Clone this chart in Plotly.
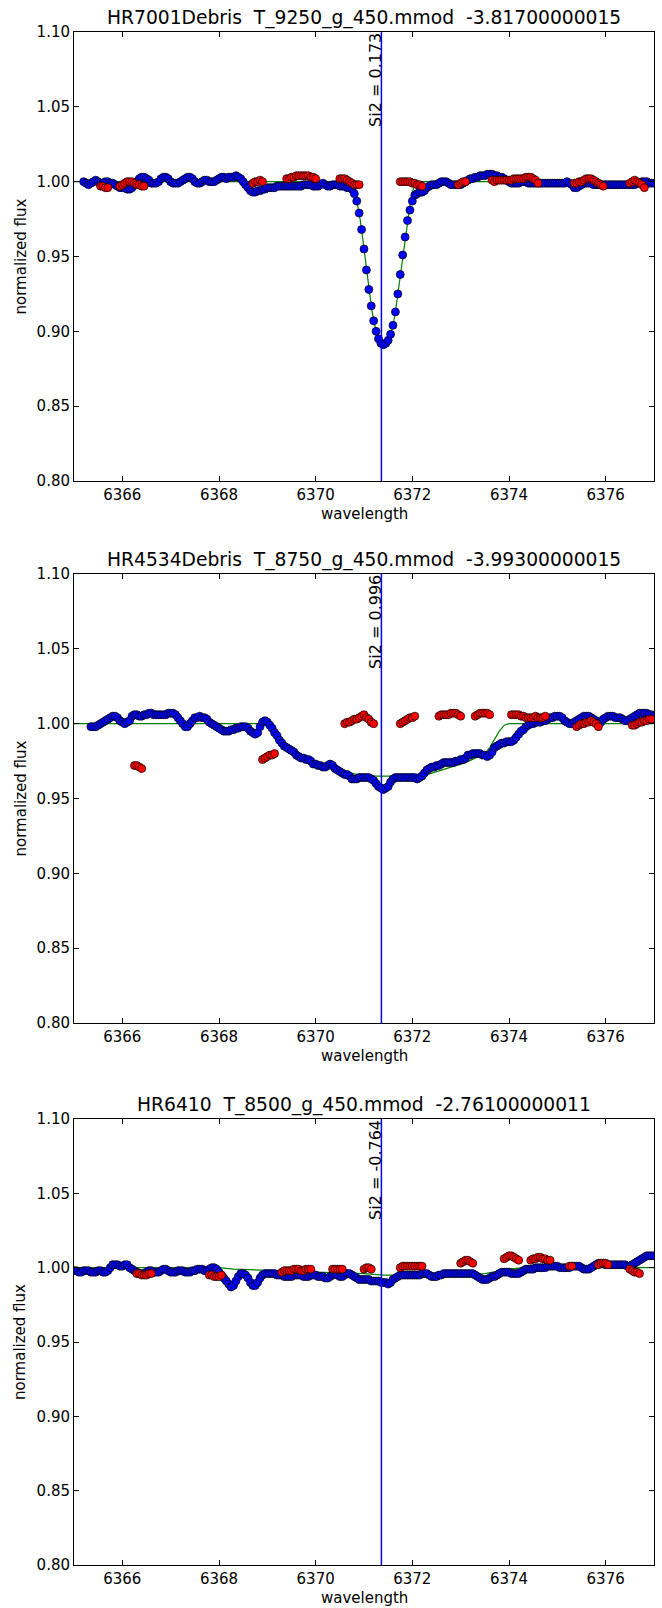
import plotly.graph_objects as go

# ---------------- data ----------------
titles = ["HR7001Debris  T_9250_g_450.mmod  -3.81700000015",
          "HR4534Debris  T_8750_g_450.mmod  -3.99300000015",
          "HR6410  T_8500_g_450.mmod  -2.76100000011"]
si2_values = ["0.173", "0.996", "-0.764"]
si2_wave = 6371.36

wave = [
 6365.00, 6365.05, 6365.10, 6365.15, 6365.20, 6365.25, 6365.30, 6365.35, 6365.40, 6365.45, 6365.50, 6365.55, 6365.60, 6365.65, 6365.70, 6365.75, 6365.80, 6365.85, 6365.90, 6365.95,
 6366.00, 6366.05, 6366.10, 6366.15, 6366.20, 6366.25, 6366.30, 6366.35, 6366.40, 6366.45, 6366.50, 6366.55, 6366.60, 6366.65, 6366.70, 6366.75, 6366.80, 6366.85, 6366.90, 6366.95,
 6367.00, 6367.05, 6367.10, 6367.15, 6367.20, 6367.25, 6367.30, 6367.35, 6367.40, 6367.45, 6367.50, 6367.55, 6367.60, 6367.65, 6367.70, 6367.75, 6367.80, 6367.85, 6367.90, 6367.95,
 6368.00, 6368.05, 6368.10, 6368.15, 6368.20, 6368.25, 6368.30, 6368.35, 6368.40, 6368.45, 6368.50, 6368.55, 6368.60, 6368.65, 6368.70, 6368.75, 6368.80, 6368.85, 6368.90, 6368.95,
 6369.00, 6369.05, 6369.10, 6369.15, 6369.20, 6369.25, 6369.30, 6369.35, 6369.40, 6369.45, 6369.50, 6369.55, 6369.60, 6369.65, 6369.70, 6369.75, 6369.80, 6369.85, 6369.90, 6369.95,
 6370.00, 6370.05, 6370.10, 6370.15, 6370.20, 6370.25, 6370.30, 6370.35, 6370.40, 6370.45, 6370.50, 6370.55, 6370.60, 6370.65, 6370.70, 6370.75, 6370.80, 6370.85, 6370.90, 6370.95,
 6371.00, 6371.05, 6371.10, 6371.15, 6371.20, 6371.25, 6371.30, 6371.35, 6371.40, 6371.45, 6371.50, 6371.55, 6371.60, 6371.65, 6371.70, 6371.75, 6371.80, 6371.85, 6371.90, 6371.95,
 6372.00, 6372.05, 6372.10, 6372.15, 6372.20, 6372.25, 6372.30, 6372.35, 6372.40, 6372.45, 6372.50, 6372.55, 6372.60, 6372.65, 6372.70, 6372.75, 6372.80, 6372.85, 6372.90, 6372.95,
 6373.00, 6373.05, 6373.10, 6373.15, 6373.20, 6373.25, 6373.30, 6373.35, 6373.40, 6373.45, 6373.50, 6373.55, 6373.60, 6373.65, 6373.70, 6373.75, 6373.80, 6373.85, 6373.90, 6373.95,
 6374.00, 6374.05, 6374.10, 6374.15, 6374.20, 6374.25, 6374.30, 6374.35, 6374.40, 6374.45, 6374.50, 6374.55, 6374.60, 6374.65, 6374.70, 6374.75, 6374.80, 6374.85, 6374.90, 6374.95,
 6375.00, 6375.05, 6375.10, 6375.15, 6375.20, 6375.25, 6375.30, 6375.35, 6375.40, 6375.45, 6375.50, 6375.55, 6375.60, 6375.65, 6375.70, 6375.75, 6375.80, 6375.85, 6375.90, 6375.95,
 6376.00, 6376.05, 6376.10, 6376.15, 6376.20, 6376.25, 6376.30, 6376.35, 6376.40, 6376.45, 6376.50, 6376.55, 6376.60, 6376.65, 6376.70, 6376.75, 6376.80, 6376.85, 6376.90, 6376.95,
 6377.00]

# panel 1 : HR7001
flux1 = [
 None, None, None, None, 1.000, 0.999, 0.998, 0.999, 1.000, 1.001, 1.000, 0.999, 0.999, 1.000, 1.000, 0.999, 0.999, 0.998, 0.997, 0.996,
 0.996, 0.996, 0.995, 0.995, 0.996, 0.998, 1.000, 1.002, 1.003, 1.003, 1.002, 1.001, 0.999, 0.999, 0.999, 1.000, 1.002, 1.003, 1.003, 1.002,
 1.000, 0.999, 0.999, 0.999, 1.000, 1.001, 1.002, 1.003, 1.003, 1.002, 1.000, 0.999, 0.999, 1.000, 1.001, 1.001, 1.000, 1.000, 1.000, 1.001,
 1.002, 1.003, 1.003, 1.002, 1.003, 1.003, 1.003, 1.004, 1.003, 1.002, 1.000, 0.998, 0.996, 0.994, 0.993, 0.993, 0.994, 0.994, 0.995, 0.995,
 0.996, 0.996, 0.996, 0.996, 0.997, 0.997, 0.997, 0.997, 0.997, 0.997, 0.997, 0.997, 0.997, 0.997, 0.997, 0.998, 0.998, 0.998, 0.998, 0.997,
 0.997, 0.997, 0.998, 0.999, 0.998, 0.997, 0.997, 0.998, 0.998, 0.998, 0.997, 0.997, 0.997, 0.996, 0.996, 0.995, 0.992, 0.987, 0.979, 0.968,
 0.955, 0.941, 0.928, 0.917, 0.907, 0.900, 0.895, 0.892, 0.891, 0.892, 0.894, 0.898, 0.904, 0.913, 0.925, 0.938, 0.951, 0.963, 0.974, 0.981,
 0.987, 0.991, 0.992, 0.993, 0.993, 0.994, 0.996, 0.997, 0.998, 0.998, 0.998, 0.999, 1.000, 1.000, 1.000, 0.999, 0.998, 0.998, 0.998, 0.998,
 0.998, 0.999, 1.000, 1.001, 1.002, 1.002, 1.003, 1.003, 1.004, 1.004, 1.004, 1.005, 1.005, 1.005, 1.004, 1.004, 1.003, 1.003, 1.002, 1.001,
 1.000, 0.999, 0.999, 0.999, 0.999, 1.000, 1.000, 1.000, 0.999, 0.999, 0.999, 0.999, 0.999, 0.999, 0.999, 0.999, 0.999, 0.999, 0.999, 0.999,
 0.999, 0.999, 0.999, 0.999, 1.000, 0.999, 0.998, 0.996, 0.996, 0.997, 0.998, 0.999, 0.999, 0.999, 0.999, 0.998, 0.998, 0.998, 0.998, 0.998,
 0.998, 0.998, 0.998, 0.998, 0.998, 0.998, 0.998, 0.998, 0.998, 0.998, 0.998, 0.998, 0.998, 0.999, 0.999, 1.000, 1.000, 1.000, 0.999, 0.999,
 0.999]
red_wave1 = [6365.55, 6365.60, 6365.65, 6365.70,
             6365.95, 6366.00, 6366.05, 6366.10, 6366.15, 6366.20, 6366.25, 6366.30, 6366.35, 6366.40, 6366.45,
             6368.70, 6368.75, 6368.80, 6368.85, 6368.90,
             6369.40, 6369.45, 6369.50, 6369.55, 6369.60, 6369.65, 6369.70, 6369.75, 6369.80, 6369.85, 6369.90, 6369.95, 6370.00,
             6370.50, 6370.55, 6370.60, 6370.65, 6370.70, 6370.75, 6370.80, 6370.85, 6370.90,
             6371.75, 6371.80, 6371.85, 6371.90, 6371.95, 6372.00, 6372.05, 6372.10, 6372.15, 6372.20,
             6372.95, 6373.00, 6373.05, 6373.10,
             6373.65, 6373.70, 6373.75, 6373.80, 6373.85, 6373.90, 6373.95, 6374.00, 6374.05, 6374.10,
             6374.15, 6374.20, 6374.25, 6374.30, 6374.35, 6374.40, 6374.45, 6374.50, 6374.55, 6374.60,
             6375.35, 6375.40, 6375.45, 6375.50, 6375.55, 6375.60, 6375.65, 6375.70, 6375.75, 6375.80, 6375.85, 6375.90, 6375.95,
             6376.50, 6376.55, 6376.60, 6376.65, 6376.70, 6376.75, 6376.80]
red_flux1 = [0.997, 0.997, 0.996, 0.996,
             0.997, 0.998, 0.999, 1.000, 1.000, 1.000, 0.999, 0.998, 0.998, 0.997, 0.997,
             0.999, 1.000, 1.000, 1.001, 1.000,
             1.002, 1.002, 1.003, 1.003, 1.004, 1.004, 1.004, 1.004, 1.004, 1.004, 1.003, 1.003, 1.002,
             1.002, 1.002, 1.002, 1.001, 1.000, 0.999, 0.998, 0.998, 0.998,
             1.000, 1.000, 1.000, 1.000, 1.000, 0.999, 0.999, 0.998, 0.998, 0.997,
             0.998, 0.999, 1.000, 1.000,
             1.001, 1.000, 1.001, 1.001, 1.001, 1.001, 1.001, 1.001, 1.001, 1.002,
             1.002, 1.002, 1.002, 1.002, 1.003, 1.003, 1.003, 1.002, 1.001, 0.999,
             0.999, 0.999, 1.000, 1.000, 1.001, 1.002, 1.002, 1.002, 1.001, 1.000, 0.999, 0.998, 0.997,
             0.999, 1.000, 1.001, 1.000, 0.999, 0.998, 0.996]
model_wave1 = [6365.00, 6370.60, 6370.70, 6370.80, 6370.85, 6370.90, 6370.95, 6371.00, 6371.05, 6371.10,
               6371.15, 6371.20, 6371.25, 6371.30, 6371.35, 6371.40, 6371.45, 6371.50, 6371.55, 6371.60,
               6371.65, 6371.70, 6371.75, 6371.80, 6371.85, 6371.90, 6371.95, 6372.00, 6372.05, 6372.10, 6377.00]
model_flux1 = [1.000, 1.000, 0.998, 0.993, 0.987, 0.979, 0.968, 0.955, 0.941, 0.928,
               0.917, 0.907, 0.900, 0.895, 0.892, 0.891, 0.892, 0.894, 0.898, 0.904,
               0.913, 0.925, 0.938, 0.951, 0.963, 0.974, 0.984, 0.993, 0.998, 1.000, 1.000]

# panel 2 : HR4534
flux2 = [
 None, None, None, None, None, None, None, 0.998, 0.998, 0.998, 0.999, 1.000, 1.001, 1.002, 1.003, 1.004, 1.005, 1.005, 1.004, 1.002,
 1.001, 1.000, 1.001, 1.002, 1.005, 1.006, 1.006, 1.005, 1.005, 1.006, 1.006, 1.007, 1.007, 1.006, 1.006, 1.006, 1.006, 1.006, 1.006, 1.007,
 1.007, 1.007, 1.006, 1.004, 1.002, 1.000, 0.998, 0.998, 1.000, 1.002, 1.004, 1.004, 1.005, 1.004, 1.004, 1.003, 1.001, 1.000, 0.999, 0.998,
 0.997, 0.996, 0.995, 0.995, 0.995, 0.996, 0.996, 0.997, 0.997, 0.998, 0.998, 0.998, 0.997, 0.995, 0.994, 0.993, 0.994, 0.998, 1.001, 1.002,
 1.001, 0.999, 0.997, 0.994, 0.992, 0.989, 0.987, 0.985, 0.984, 0.983, 0.982, 0.981, 0.979, 0.978, 0.977, 0.977, 0.976, 0.976, 0.975, 0.973,
 0.973, 0.972, 0.972, 0.971, 0.971, 0.972, 0.973, 0.972, 0.970, 0.969, 0.968, 0.967, 0.966, 0.966, 0.965, 0.963, 0.963, 0.963, 0.964, 0.964,
 0.964, 0.964, 0.964, 0.963, 0.962, 0.960, 0.958, 0.957, 0.956, 0.957, 0.958, 0.961, 0.963, 0.964, 0.964, 0.964, 0.964, 0.964, 0.964, 0.964,
 0.964, 0.964, 0.963, 0.964, 0.965, 0.967, 0.969, 0.970, 0.971, 0.971, 0.972, 0.972, 0.973, 0.974, 0.974, 0.974, 0.974, 0.974, 0.975, 0.975,
 0.976, 0.976, 0.977, 0.979, 0.979, 0.980, 0.980, 0.980, 0.980, 0.979, 0.979, 0.978, 0.979, 0.981, 0.984, 0.985, 0.986, 0.987, 0.987, 0.988,
 0.988, 0.988, 0.989, 0.991, 0.993, 0.995, 0.996, 0.998, 0.999, 1.000, 1.000, 1.001, 1.001, 1.001, 1.002, 1.002, 1.003, 1.004, 1.004, 1.005,
 1.005, 1.005, 1.004, 1.002, 1.001, 1.000, 1.000, 1.001, 1.002, 1.003, 1.004, 1.005, 1.005, 1.005, 1.004, 1.003, 1.002, 1.000, 1.001, 1.003,
 1.004, 1.005, 1.005, 1.005, 1.004, 1.004, 1.004, 1.003, 1.002, 1.002, 1.003, 1.004, 1.005, 1.006, 1.007, 1.007, 1.007, 1.007, 1.006, 1.006,
 1.005]
red_wave2 = [6366.25, 6366.30, 6366.35, 6366.40,
             6368.90, 6368.95, 6369.00, 6369.05, 6369.10, 6369.15,
             6370.60, 6370.65, 6370.70, 6370.75, 6370.80, 6370.85, 6370.90, 6370.95, 6371.00, 6371.05, 6371.10, 6371.15, 6371.20,
             6371.75, 6371.80, 6371.85, 6371.90, 6371.95, 6372.00, 6372.05,
             6372.55, 6372.60, 6372.65, 6372.70, 6372.75, 6372.80, 6372.85, 6372.90, 6372.95, 6373.00,
             6373.30, 6373.35, 6373.40, 6373.45, 6373.50, 6373.55, 6373.60,
             6374.05, 6374.10, 6374.15, 6374.20, 6374.25, 6374.30, 6374.35, 6374.40, 6374.45, 6374.50,
             6374.55, 6374.60, 6374.65, 6374.70, 6374.75,
             6375.40, 6375.45, 6375.50, 6375.55, 6375.60, 6375.65, 6375.70, 6375.75, 6375.80, 6375.85,
             6376.55, 6376.60, 6376.65, 6376.70, 6376.75, 6376.80, 6376.85, 6376.90, 6376.95]
red_flux2 = [0.972, 0.972, 0.971, 0.970,
             0.976, 0.977, 0.978, 0.979, 0.979, 0.980,
             1.000, 1.001, 1.001, 1.002, 1.003, 1.003, 1.004, 1.005, 1.006, 1.004, 1.003, 1.001, 1.000,
             1.000, 1.001, 1.002, 1.003, 1.004, 1.004, 1.005,
             1.005, 1.006, 1.006, 1.006, 1.006, 1.007, 1.007, 1.007, 1.006, 1.005,
             1.005, 1.006, 1.007, 1.007, 1.007, 1.007, 1.006,
             1.006, 1.006, 1.006, 1.006, 1.005, 1.005, 1.004, 1.004, 1.004, 1.004,
             1.005, 1.004, 1.004, 1.004, 1.005,
             0.998, 0.999, 1.000, 1.000, 1.001, 1.001, 1.002, 1.001, 1.000, 0.998,
             0.999, 0.999, 1.000, 1.001, 1.001, 1.002, 1.002, 1.003, 1.003]
model_wave2 = [6365.00, 6368.95, 6369.05, 6369.15, 6369.30, 6369.50, 6369.70, 6369.90, 6370.10, 6370.30,
               6370.50, 6370.70, 6370.90, 6371.25, 6372.10, 6372.30, 6372.50, 6372.70, 6372.90, 6373.10,
               6373.30, 6373.50, 6373.60, 6373.70, 6373.80, 6373.90, 6374.00, 6377.00]
model_flux2 = [1.000, 1.000, 0.996, 0.991, 0.985, 0.981, 0.978, 0.975, 0.973, 0.970,
               0.968, 0.967, 0.966, 0.965, 0.965, 0.966, 0.968, 0.970, 0.972, 0.974,
               0.977, 0.980, 0.984, 0.990, 0.995, 0.999, 1.000, 1.000]

# panel 3 : HR6410
flux3 = [
 0.998, 0.998, 0.997, 0.997, 0.998, 0.998, 0.998, 0.997, 0.997, 0.997, 0.998, 0.998, 0.997, 0.997, 0.998, 1.000, 1.002, 1.002, 1.002, 1.001,
 1.001, 1.002, 1.002, 1.000, 0.999, 0.998, 0.997, 0.996, 0.996, 0.996, 0.997, 0.998, 0.998, 0.997, 0.997, 0.997, 0.998, 0.999, 0.999, 0.998,
 0.997, 0.997, 0.997, 0.998, 0.998, 0.998, 0.997, 0.997, 0.997, 0.998, 0.998, 0.999, 0.999, 0.999, 0.998, 0.998, 0.999, 1.000, 1.000, 0.999,
 0.997, 0.995, 0.993, 0.991, 0.989, 0.987, 0.988, 0.991, 0.994, 0.996, 0.996, 0.995, 0.993, 0.990, 0.988, 0.988, 0.990, 0.993, 0.995, 0.996,
 0.996, 0.996, 0.996, 0.996, 0.995, 0.995, 0.995, 0.994, 0.994, 0.994, 0.994, 0.995, 0.995, 0.995, 0.995, 0.994, 0.994, 0.994, 0.995, 0.995,
 0.995, 0.994, 0.994, 0.994, 0.993, 0.993, 0.994, 0.995, 0.996, 0.995, 0.994, 0.994, 0.995, 0.996, 0.996, 0.995, 0.994, 0.993, 0.992, 0.992,
 0.992, 0.992, 0.992, 0.991, 0.991, 0.991, 0.991, 0.990, 0.990, 0.990, 0.989, 0.990, 0.992, 0.993, 0.994, 0.995, 0.995, 0.995, 0.995, 0.995,
 0.995, 0.995, 0.995, 0.995, 0.996, 0.996, 0.996, 0.995, 0.994, 0.994, 0.994, 0.995, 0.995, 0.996, 0.996, 0.996, 0.996, 0.996, 0.996, 0.996,
 0.996, 0.996, 0.996, 0.996, 0.996, 0.996, 0.995, 0.994, 0.993, 0.992, 0.992, 0.992, 0.993, 0.994, 0.994, 0.995, 0.996, 0.997, 0.997, 0.997,
 0.997, 0.996, 0.996, 0.996, 0.996, 0.997, 0.998, 0.999, 0.999, 0.999, 0.999, 1.000, 1.000, 1.000, 1.000, 1.000, 1.001, 1.001, 1.001, 1.001,
 1.001, 1.000, 1.000, 1.000, 1.000, 1.000, 1.001, 1.001, 1.001, 1.001, 1.000, 0.999, 0.999, 0.999, 1.000, 1.001, 1.002, 1.003, 1.003, 1.003,
 1.002, 1.002, 1.002, 1.002, 1.002, 1.002, 1.002, 1.002, 1.002, 1.001, 1.001, 1.002, 1.003, 1.004, 1.005, 1.006, 1.007, 1.008, 1.008, 1.008,
 1.008]
red_wave3 = [6366.30, 6366.35, 6366.40, 6366.45, 6366.50, 6366.55, 6366.60,
             6367.80, 6367.85, 6367.90, 6367.95, 6368.00, 6368.05,
             6369.30, 6369.35, 6369.40, 6369.45, 6369.50, 6369.55, 6369.60, 6369.65, 6369.70, 6369.75, 6369.80, 6369.85, 6369.90,
             6370.35, 6370.40, 6370.45, 6370.50, 6370.55,
             6371.00, 6371.05, 6371.10, 6371.15,
             6371.75, 6371.80, 6371.85, 6371.90, 6371.95, 6372.00, 6372.05, 6372.10, 6372.15, 6372.20,
             6373.00, 6373.05, 6373.10, 6373.15, 6373.20, 6373.25,
             6373.90, 6373.95, 6374.00, 6374.05, 6374.10, 6374.15, 6374.20,
             6374.45, 6374.50, 6374.55, 6374.60, 6374.65, 6374.70, 6374.75, 6374.80, 6374.85,
             6375.25, 6375.30,
             6375.85, 6375.90, 6375.95, 6376.00, 6376.05,
             6376.50, 6376.55, 6376.60, 6376.65, 6376.70]
red_flux3 = [0.996, 0.996, 0.995, 0.995, 0.995, 0.996, 0.996,
             0.995, 0.995, 0.994, 0.994, 0.994, 0.995,
             0.997, 0.998, 0.998, 0.998, 0.998, 0.999, 0.999, 0.999, 0.998, 0.998, 0.999, 0.999, 0.999,
             0.999, 0.999, 0.999, 0.999, 0.999,
             0.999, 1.000, 1.000, 0.999,
             1.000, 1.001, 1.001, 1.001, 1.001, 1.001, 1.001, 1.001, 1.001, 1.001,
             1.003, 1.004, 1.005, 1.005, 1.004, 1.003,
             1.006, 1.007, 1.008, 1.008, 1.007, 1.006, 1.005,
             1.005, 1.006, 1.006, 1.007, 1.007, 1.006, 1.006, 1.005, 1.005,
             1.001, 1.001,
             1.002, 1.003, 1.003, 1.003, 1.002,
             0.999, 0.998, 0.997, 0.997, 0.996]
model_wave3 = [6365.00, 6368.00, 6368.30, 6369.00, 6370.00, 6371.00, 6371.40, 6372.00, 6373.00, 6373.50, 6374.00, 6374.30, 6377.00]
model_flux3 = [1.000, 1.000, 0.999, 0.998, 0.997, 0.996, 0.995, 0.995, 0.995, 0.996, 0.999, 1.000, 1.000]

panels = [
    (flux1, red_wave1, red_flux1, model_wave1, model_flux1),
    (flux2, red_wave2, red_flux2, model_wave2, model_flux2),
    (flux3, red_wave3, red_flux3, model_wave3, model_flux3),
]
for p in panels:
    assert len(p[0]) == len(wave), len(p[0])
    assert len(p[1]) == len(p[2]), (len(p[1]), len(p[2]))
    assert len(p[3]) == len(p[4]), (len(p[3]), len(p[4]))

# ---------------- layout geometry (pixels) ----------------
W, H = 662, 1608
L, R, T, B = 74, 8, 32, 43
PW, PH = W - L - R, H - T - B
tops = [32, 574, 1119]
bottoms = [481, 1023, 1565]


def py(p):
    return (H - B - p) / PH


def px(p):
    return (p - L) / PW


FONT = "DejaVu Sans"
fig = go.Figure()
annotations = []
shapes = []

for k, (flux, rw, rf, mw, mf) in enumerate(panels):
    n = "" if k == 0 else str(k + 1)
    xa, ya = "x" + n, "y" + n
    fig.add_trace(go.Scatter(x=mw, y=mf, mode="lines", line=dict(color="#008000", width=1.2),
                             xaxis=xa, yaxis=ya, showlegend=False, hoverinfo="skip"))
    fig.add_trace(go.Scatter(x=wave, y=flux, mode="markers",
                             marker=dict(color="#0000ff", size=8, line=dict(color="black", width=0.7)),
                             xaxis=xa, yaxis=ya, showlegend=False))
    fig.add_trace(go.Scatter(x=rw, y=rf, mode="markers",
                             marker=dict(color="#ff0000", size=8, line=dict(color="black", width=0.7)),
                             xaxis=xa, yaxis=ya, showlegend=False))
    axstyle = dict(showline=True, linecolor="black", linewidth=1, mirror="ticks", ticks="inside",
                   ticklen=5, tickcolor="black", tickwidth=1, showgrid=False, zeroline=False,
                   tickfont=dict(family=FONT, size=15, color="black"))
    fig.layout["xaxis" + n] = dict(domain=[0, 1], range=[6365, 6377], tick0=6366, dtick=2,
                                   anchor=ya, **axstyle)
    fig.layout["yaxis" + n] = dict(domain=[py(bottoms[k]), py(tops[k])], range=[0.8, 1.1],
                                   tick0=0.8, dtick=0.05, tickformat=".2f", anchor=xa, **axstyle)
    shapes.append(dict(type="line", xref=xa, yref=ya + " domain", x0=si2_wave, x1=si2_wave,
                       y0=0, y1=1, line=dict(color="#0000ff", width=1.5)))
    annotations.append(dict(x=si2_wave, y=1.10, xref=xa, yref=ya, text="Si2 = " + si2_values[k],
                            textangle=-90, xanchor="right", yanchor="top", showarrow=False,
                            font=dict(family=FONT, size=16, color="black"), xshift=5, yshift=1))
    annotations.append(dict(x=px(364), y=py(tops[k] - 14), xref="paper", yref="paper", text=titles[k],
                            xanchor="center", yanchor="middle", showarrow=False,
                            font=dict(family=FONT, size=18.7, color="black")))
    annotations.append(dict(x=px(364), y=py(bottoms[k] + 33), xref="paper", yref="paper", text="wavelength",
                            xanchor="center", yanchor="middle", showarrow=False,
                            font=dict(family=FONT, size=15, color="black")))
    annotations.append(dict(x=px(20), y=py((tops[k] + bottoms[k]) / 2), xref="paper", yref="paper",
                            text="normalized flux", textangle=-90, xanchor="center", yanchor="middle",
                            showarrow=False, font=dict(family=FONT, size=15, color="black")))

fig.update_layout(width=W, height=H, margin=dict(l=L, r=R, t=T, b=B, pad=0),
                  paper_bgcolor="white", plot_bgcolor="white", showlegend=False,
                  annotations=annotations, shapes=shapes, font=dict(family=FONT))
fig.write_html("out.html")
